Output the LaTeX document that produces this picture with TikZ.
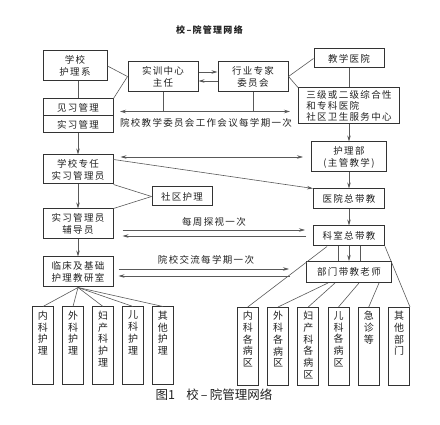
\documentclass[tikz,border=0pt]{standalone}
\usepackage{fontspec}
\setmainfont{Noto Sans CJK SC}
\newfontfamily\boxfont[LetterSpace=14]{Noto Sans CJK SC}
\usetikzlibrary{arrows.meta,positioning,calc}
\definecolor{dline}{rgb}{0.2,0.2,0.2}
\definecolor{lline}{rgb}{0.35,0.35,0.35}
\definecolor{dtext}{rgb}{0.13,0.13,0.13}
\tikzset{
  box/.style={draw=dline,line width=1pt,inner sep=0pt,align=center,text=dtext,
    font=\boxfont\fontsize{9.5}{12}\selectfont},
  col/.style={draw=dline,line width=1pt,inner sep=4pt,minimum width=21pt,text=dtext,
    font=\fontsize{10}{11.7}\selectfont},
  lnk/.style={draw=lline,line width=0.6pt},
  arr/.style={lnk,-{Stealth[length=6pt,width=3.5pt]}},
  darr/.style={lnk,{Stealth[length=6pt,width=3.5pt]}-{Stealth[length=6pt,width=3.5pt]}},
  lbl/.style={inner sep=0pt,text=dtext,font=\boxfont\fontsize{9.5}{12}\selectfont}
}
\newcommand{\vlab}[1]{\parbox[t][70pt][t]{12pt}{\centering #1}}

\begin{document}
\begin{tikzpicture}[x=1pt,y=-1pt]
\useasboundingbox (0,0) rectangle (440,425);
\node[lbl,font=\boxfont\bfseries\fontsize{9}{11}\selectfont] (title) at (209.5,30) {校–院管理网络};
\node[box,minimum width=64pt,minimum height=30pt] (xx) at (75,66) {学校\\护理系};
\node[box,minimum width=70pt,minimum height=30pt] (sx) at (163,76.5) {实训中心\\主任};
\node[box,minimum width=70pt,minimum height=30pt] (hy) at (253,76.5) {行业专家\\委员会};
\node[box,minimum width=70pt,minimum height=19pt] (jx) at (349,58.5) {教学医院};
\node[box,minimum width=101pt,minimum height=36pt,align=left,
  font=\boxfont\fontsize{9.5}{11}\selectfont] (sj) at (349,106) {三级或二级综合性\\和专科医院\\社区卫生服务中心};
\node[box,minimum width=70pt,minimum height=17pt] (jxgl) at (78,107.5) {见习管理};
\node[box,minimum width=70pt,minimum height=17pt] (sxgl) at (78,124.5) {实习管理};
\node[box,minimum width=70pt,minimum height=29pt] (zr) at (78,169.5) {学校专任\\实习管理员};
\node[box,minimum width=60pt,minimum height=19pt] (sq) at (182,196.5) {社区护理};
\node[box,minimum width=70pt,minimum height=30pt] (fd) at (78,224) {实习管理员\\辅导员};
\node[box,minimum width=70pt,minimum height=30pt] (lc) at (78,272) {临床及基础\\护理教研室};
\node[box,minimum width=75pt,minimum height=30pt] (hl) at (349,157) {护理部\\(主管教学)};
\node[box,minimum width=71pt,minimum height=20pt] (yz) at (349,199) {医院总带教};
\node[box,minimum width=71pt,minimum height=20pt] (kz) at (349,236) {科室总带教};
\node[box,minimum width=85pt,minimum height=21pt] (bm) at (349,272) {部门带教老师};
\foreach \t [count=\i] in {{内\\科\\护\\理},{外\\科\\护\\理},{妇\\产\\科\\护\\理},{儿\\科\\护\\理},{其\\他\\护\\理}}
  \node[col] (l\i) at ({13+30*\i},346) {\vlab{\t}};
\foreach \t [count=\i] in {{内\\科\\各\\病\\区},{外\\科\\各\\病\\区},{妇\\产\\科\\各\\病\\区},{儿\\科\\各\\病\\区},{急\\诊\\等},{其\\他\\部\\门}}
  \node[col] (r\i) at ({217.5+30.25*\i},346.5) {\vlab{\t}};
\node[font=\fontsize{12.5}{14}\selectfont,text=dtext] (cap) at (214,395) {图1\hspace{0.9em}校\,–\,院管理网络};

\draw[lnk] (xx.south -| jxgl.north) -- (jxgl.north);
\draw[lnk] (xx.east) -- (sx.west);
\draw[lnk] (jxgl.north east) -- (sx.west);
\draw[arr] ([yshift=4.5pt]sx.east) -- ([yshift=4.5pt]hy.west);
\draw[arr] ([yshift=-4.5pt]hy.west) -- ([yshift=-4.5pt]sx.east);
\draw[lnk] (hy.east) -- (jx.west);
\draw[lnk] (hy.east) -- (sj.north west);
\draw[lnk] (jx.south) -- (sj.north);
\draw[arr] (sj.south) -- (hl.north);
\coordinate (wl) at (120,111.5);
\coordinate (wr) at (290,111.5);
\draw[darr] (wl) -- (wr);
\draw[lnk] (sx.south) -- (sx.south |- wl);
\draw[lnk] (hy.south) -- (hy.south |- wl);
\node[lbl] (wt) at (206,123) {院校教学委员会工作会议每学期一次};
\draw[arr] (sxgl.south) -- (zr.north);
\draw[darr,shorten <=7pt,shorten >=8pt] (zr.east |- hl.west) -- (hl.west);
\draw[arr] ([yshift=-5pt]zr.north east) -- (yz.north west);
\draw[lnk] (zr.south east) -- (sq.west);
\draw[lnk] (fd.north east) -- (sq.west);
\draw[arr] (zr.south) -- (fd.north);
\draw[arr] (fd.south) -- (lc.north);
\draw[arr] (hl.south) -- (yz.north);
\draw[arr] (yz.south) -- (kz.north);
\draw[arr] (kz.south) -- (bm.north);
\foreach \d in {-11,11}
  \draw[lnk] ([xshift=\d pt]kz.south) -- ([xshift=\d pt]bm.north);
\draw[arr,shorten <=9pt,shorten >=8pt] ([yshift=-6pt]fd.east) -- ([yshift=6pt]kz.west);
\draw[arr,shorten <=7pt,shorten >=9pt] (kz.west) -- ([yshift=-12pt]fd.east);
\node[lbl] (zt) at (214,222) {每周探视一次};
\draw[arr,shorten <=5pt,shorten >=17pt] ([yshift=3pt]lc.east) -- ([yshift=3pt]bm.west);
\draw[arr,shorten <=16pt,shorten >=5pt] ([yshift=-4pt]bm.west) -- ([yshift=-4pt]lc.east);
\node[lbl] (jt) at (206,260) {院校交流每学期一次};
\foreach \i in {1,...,5}
  \draw[lnk] (lc.south) -- (l\i.north);
\draw[lnk] ([xshift=14pt]kz.south west) -- (r1.north);
\draw[lnk] (kz.south east) -- (r6.north east);
\foreach \dx/\j in {22/2,29/3,53/4,73/5}
  \draw[lnk] ([xshift=\dx pt]bm.south west) -- (r\j.north);
\end{tikzpicture}
\end{document}
